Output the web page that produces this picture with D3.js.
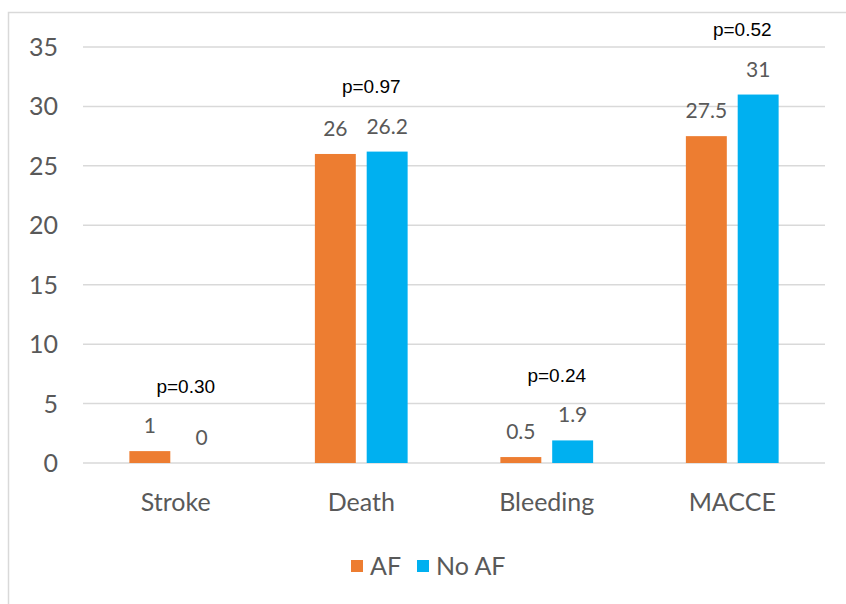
<!DOCTYPE html>
<html>
<head>
<meta charset="utf-8">
<script src="https://cdn.jsdelivr.net/npm/d3@7"></script>
<style>
  body { margin: 0; background: #fff; }
</style>
</head>
<body>
<div id="chart"></div>
<script>
const categories = ["Stroke", "Death", "Bleeding", "MACCE"];
const seriesNames = ["AF", "No AF"];
const afValues = [1, 26, 0.5, 27.5];
const noAfValues = [0, 26.2, 1.9, 31];
const valueLabels = [["1", "0"], ["26", "26.2"], ["0.5", "1.9"], ["27.5", "31"]];
const pValues = ["p=0.30", "p=0.97", "p=0.24", "p=0.52"];
const yTicks = [0, 5, 10, 15, 20, 25, 30, 35];

const dims = {width: 846, height: 604, left: 83, right: 825, top: 47, bottom: 463};
const colors = {"AF": "#ED7D31", "No AF": "#00B0F0"};
const gray = "#595959";
const font = "Lato, 'Open Sans', sans-serif";

const svg = d3.select("#chart")
    .append("svg")
    .attr("width", dims.width)
    .attr("height", dims.height);

// outer frame (only top and left are inside the picture)
svg.append("rect")
    .attr("x", 8.5).attr("y", 12.5)
    .attr("width", dims.width).attr("height", dims.height)
    .style("fill", "none")
    .style("stroke", "#d9d9d9")
    .style("stroke-width", 1.5);

const y = d3.scaleLinear().domain([0, 35]).range([dims.bottom, dims.top]);
const x0 = d3.scaleBand().domain(categories).range([dims.left, dims.right])
    .paddingInner(0.5).paddingOuter(0.25);
const x1 = d3.scaleBand().domain(seriesNames).range([0, x0.bandwidth()]).paddingInner(0.21);

// gridlines
svg.append("g")
    .selectAll("line")
    .data(yTicks)
    .join("line")
    .attr("x1", dims.left).attr("x2", dims.right)
    .attr("y1", d => y(d)).attr("y2", d => y(d))
    .style("stroke", "#d9d9d9")
    .style("stroke-width", 1.5);

// y axis labels
svg.append("g")
    .selectAll("text")
    .data(yTicks)
    .join("text")
    .attr("x", 58)
    .attr("y", d => y(d))
    .attr("dy", "0.36em")
    .style("text-anchor", "end")
    .style("font-family", font)
    .style("font-size", "25px")
    .style("fill", gray)
    .text(d => d);

// x axis labels
svg.append("g")
    .selectAll("text")
    .data(categories)
    .join("text")
    .attr("x", d => x0(d) + x0.bandwidth() / 2)
    .attr("y", 511)
    .style("text-anchor", "middle")
    .style("font-family", font)
    .style("font-size", "25px")
    .style("fill", gray)
    .text(d => d);

const data = categories.map((c, i) => ({
    category: c,
    p: pValues[i],
    values: [
        {series: "AF", value: afValues[i], label: valueLabels[i][0]},
        {series: "No AF", value: noAfValues[i], label: valueLabels[i][1]}
    ]
}));

const groups = svg.append("g")
    .selectAll("g")
    .data(data)
    .join("g")
    .attr("transform", d => `translate(${x0(d.category)},0)`);

groups.selectAll("rect")
    .data(d => d.values)
    .join("rect")
    .attr("x", d => x1(d.series))
    .attr("width", x1.bandwidth())
    .attr("y", d => y(d.value))
    .attr("height", d => y(0) - y(d.value))
    .style("fill", d => colors[d.series]);

groups.selectAll("text.value")
    .data(d => d.values)
    .join("text")
    .attr("class", "value")
    .attr("x", d => x1(d.series) + x1.bandwidth() / 2)
    .attr("y", d => y(d.value) - 18)
    .style("text-anchor", "middle")
    .style("font-family", font)
    .style("font-size", "21px")
    .style("fill", gray)
    .text(d => d.label);

groups.append("text")
    .attr("x", x0.bandwidth() / 2 + 10)
    .attr("y", d => y(d3.max(d.values, v => v.value)) - 65)
    .attr("dy", "0.36em")
    .style("text-anchor", "middle")
    .style("font-family", "'Liberation Sans', Arial, sans-serif")
    .style("font-size", "19px")
    .style("fill", "#000")
    .text(d => d.p);

// legend
const legendPos = [351, 417];
const legend = svg.append("g")
    .selectAll("g")
    .data(seriesNames)
    .join("g")
    .attr("transform", (d, i) => `translate(${legendPos[i]},566)`);

legend.append("rect")
    .attr("x", 0).attr("y", -6)
    .attr("width", 12).attr("height", 12)
    .style("fill", d => colors[d]);

legend.append("text")
    .attr("x", 19)
    .attr("dy", "0.36em")
    .style("font-family", font)
    .style("font-size", "25px")
    .style("fill", gray)
    .text(d => d);
</script>
</body>
</html>
